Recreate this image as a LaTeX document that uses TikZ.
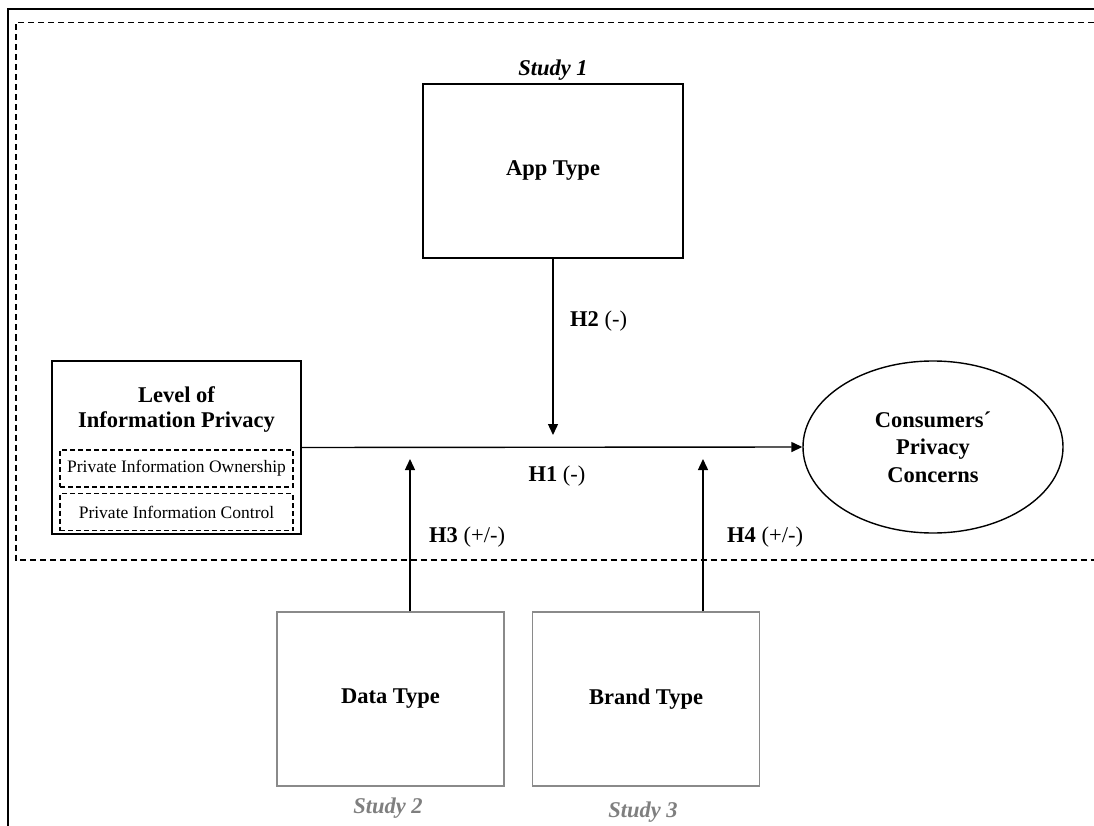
\documentclass[tikz,border=0pt]{standalone}
\usepackage{fontspec}
\setmainfont{Liberation Serif}
\usetikzlibrary{shapes.geometric,arrows.meta}
\definecolor{boxgray}{HTML}{8A8A8A}
\definecolor{studygray}{HTML}{7F7F7F}
\begin{document}
\begin{tikzpicture}[x=1pt,y=-1pt,
  box/.style={draw, line width=1.4pt, inner sep=0pt, align=center, font=\fontsize{22.5}{25}\selectfont\bfseries},
  graybox/.style={box, draw=boxgray},
  dbox/.style={draw, dash pattern=on 5pt off 3pt, line width=1.1pt, minimum width=233pt, minimum height=37pt, inner sep=0pt, font=\fontsize{17.5}{20}\selectfont},
  arr/.style={line width=1.4pt, -{Triangle[length=11pt,width=10pt]}},
  hlab/.style={font=\fontsize{22.5}{25}\selectfont, inner sep=0pt},
  study/.style={font=\fontsize{22.5}{25}\selectfont\bfseries\itshape, inner sep=0pt},
]
\useasboundingbox (0,0) rectangle (1094,826);
% frames
\draw[line width=2.4pt] (8,826) -- (8,9) -- (1094,9);
\draw[dash pattern=on 6pt off 4pt, line width=1.3pt] (1094,22.5) -- (16,22.5) -- (16,560) -- (1094,560);
% App type
\node[box, minimum width=260pt, minimum height=174pt] (app) at (553,171) {App Type};
\node[study, anchor=base] (s1) at (553,76) {Study 1};
% Level of information privacy
\node[box, minimum width=249pt, minimum height=173pt] (lvl) at (176.5,447.5) {};
\node[box, draw=none] (lvlt) at (176.5,409.5) {Level of\\Information Privacy};
\node[dbox] (own) at (176.5,468.5) {Private Information Ownership};
\node[dbox] (ctrl) at (176.5,512) {Private Information Control};
% Consumers' privacy concerns
\node[ellipse, draw, line width=1.4pt, minimum width=260pt, minimum height=172pt, inner sep=0pt, align=center, font=\fontsize{22.5}{27.5}\selectfont\bfseries] (cpc) at (933,447) {Consumers´\\Privacy\\Concerns};
% Data / Brand type
\node[graybox, minimum width=227pt, minimum height=174pt] (data) at (390.5,699) {Data Type};
\node[graybox, minimum width=227pt, minimum height=174pt] (brand) at (646,699) {Brand Type};
\node[study, text=studygray] (s2) at (388,808) {Study 2};
\node[study, text=studygray] (s3) at (643,812) {Study 3};
% connectors
\coordinate (h2tip) at (553,435);
\coordinate (h3tip) at (410,459);
\coordinate (h4tip) at (703,459);
\draw[arr] (lvl.east) -- (cpc.west);
\draw[arr] (app.south) -- (h2tip);
\draw[arr] (h3tip |- data.north) -- (h3tip);
\draw[arr] (h4tip |- brand.north) -- (h4tip);
% labels
\node[hlab, anchor=west] (l2) at (570,321) {\textbf{H2} (-)};
\node[hlab] (l1) at (557,476) {\textbf{H1} (-)};
\node[hlab, anchor=west] (l3) at (429,537) {\textbf{H3} (+/-)};
\node[hlab, anchor=west] (l4) at (727,537) {\textbf{H4} (+/-)};
\end{tikzpicture}
\end{document}
